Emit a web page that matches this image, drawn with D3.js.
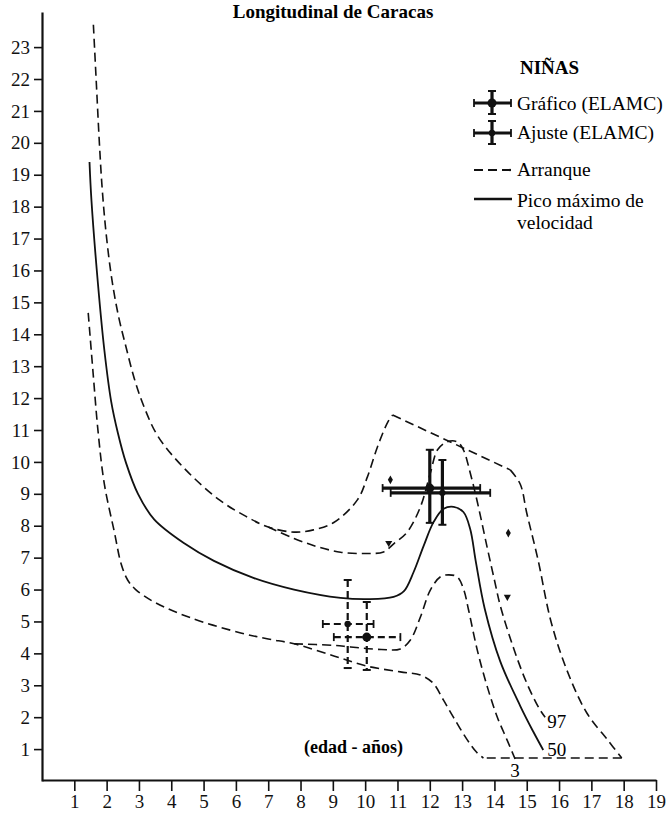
<!DOCTYPE html>
<html>
<head>
<meta charset="utf-8">
<script src="https://cdn.jsdelivr.net/npm/d3@7"></script>
<style>
body { margin: 0; background: #fff; }
text { font-family: "Liberation Serif", "Times New Roman", serif; }
</style>
</head>
<body>
<div id="grafico"></div>
<script>
const width = 666
const height = 816
const color_linea = '#111'

/* curvas de velocidad: [edad, cm/año] */
const sup_envolvente = [[1.59,23.7],[1.68,21.9],[1.77,20.1],[1.86,18.6],[1.98,17.2],[2.15,15.8],[2.36,14.6],[2.6,13.6],[2.86,12.6],[3.16,11.72],[3.59,10.8],[4.4,9.8],[5.5,8.8],[6.3,8.3],[7.0,7.96],[7.8,7.8],[8.4,7.87],[9.03,8.1],[9.76,8.81],[10.07,9.53],[10.38,10.47],[10.7,11.25],[10.85,11.47]]
const arista = [[10.85,11.47],[14.49,9.75]]
const caida = [[14.49,9.75],[14.8,9.3],[15.0,8.4],[15.35,6.93],[15.75,5.0],[16.24,3.48],[16.86,2.13],[17.5,1.29],[17.94,0.72]]
const base = [[17.94,0.72],[13.66,0.72]]
const inf_envolvente = [[1.43,14.67],[1.58,12.8],[1.74,10.9],[1.93,9.3],[2.24,7.8],[2.45,6.8],[2.65,6.3],[2.9,6.0],[3.47,5.61],[4.61,5.11],[6.15,4.64],[7.0,4.45],[7.8,4.3],[9.03,3.92],[10.05,3.6],[11.09,3.42],[11.71,3.32],[12.1,3.07],[12.42,2.54],[12.73,2.0],[13.16,1.29],[13.45,0.9],[13.66,0.72]]
const p97 = [[7.0,7.96],[7.8,7.6],[8.53,7.34],[9.24,7.17],[10.0,7.13],[10.57,7.18],[10.9,7.45],[11.3,7.8],[11.71,8.59],[12.02,9.66],[12.24,10.38],[12.54,10.63],[12.85,10.63],[13.04,10.38],[13.25,9.66],[13.47,8.75],[13.78,7.3],[14.0,6.3],[14.18,5.5],[14.58,4.2],[15.0,3.07],[15.41,2.23],[15.57,2.0]]
const p50 = [[1.47,19.4],[1.53,18.2],[1.73,15.6],[1.93,13.5],[2.14,11.9],[2.35,10.9],[2.6,9.97],[2.97,9.0],[3.47,8.2],[4.4,7.45],[5.32,6.9],[6.56,6.36],[7.8,6.0],[9.24,5.74],[10.1,5.7],[10.88,5.77],[11.2,5.95],[11.5,6.55],[11.81,7.37],[12.12,8.12],[12.43,8.53],[12.74,8.59],[13.04,8.43],[13.25,7.9],[13.42,6.9],[13.7,5.4],[14.18,3.75],[14.8,2.35],[15.2,1.55],[15.51,0.97]]
const p3 = [[7.8,4.3],[9.03,4.25],[9.55,4.2],[10.5,4.12],[11.09,4.14],[11.4,4.42],[11.71,5.14],[12.02,5.99],[12.33,6.4],[12.58,6.46],[12.85,6.4],[13.05,6.0],[13.2,5.36],[13.47,4.1],[13.78,2.95],[14.09,2.0],[14.39,1.29],[14.64,0.69]]

/* cruces (ELAMC) */
const cruces_tipo = ['pico', 'pico', 'arranque', 'arranque']
const cruces_metodo = ['Gráfico', 'Ajuste', 'Gráfico', 'Ajuste']
const cruces_edad = [12.0, 12.39, 10.05, 9.46]
const cruces_edad_min = [10.54, 10.79, 9.03, 8.69]
const cruces_edad_max = [13.56, 13.87, 11.09, 10.26]
const cruces_vel = [9.18, 9.03, 4.51, 4.92]
const cruces_vel_min = [8.09, 8.03, 3.48, 3.54]
const cruces_vel_max = [10.38, 10.06, 5.61, 6.3]

/* marcas sueltas */
const marcas_edad = [10.78, 14.43, 14.4, 10.73]
const marcas_vel = [9.44, 7.77, 5.77, 7.46]
const marcas_forma = ['rombo', 'rombo', 'v', 'v']

const ticks_x = d3.range(1, 20)
const ticks_y = d3.range(1, 24)

document.addEventListener('DOMContentLoaded', function ()
{
const svg = d3.select("#grafico")
    .append("svg")
    .attr("width", width)
    .attr("height", height)

const x = d3.scaleLinear().domain([0, 19]).range([42, 656])
const y = d3.scaleLinear().domain([0, 24.1]).range([781, 12])

/* Titulo */
svg.append("text")
    .attr("x", width/2)
    .attr("y", 18)
    .attr("font-size", 19)
    .attr("font-weight", "bold")
    .attr("text-anchor", "middle")
    .text("Longitudinal de Caracas")

/* Ejes */
const eje_y = svg.append("g")
    .attr("transform", "translate(42,0)")
    .call(d3.axisLeft(y).tickValues(ticks_y).tickSize(8).tickSizeOuter(0).tickPadding(4))
const eje_x = svg.append("g")
    .attr("transform", "translate(0,780)")
    .call(d3.axisBottom(x).tickValues(ticks_x).tickSize(11).tickSizeOuter(0).tickPadding(4))
for (const eje of [eje_y, eje_x]) {
    eje.select(".domain").attr("stroke", color_linea).attr("stroke-width", 2.2)
    eje.selectAll(".tick line").attr("stroke", color_linea).attr("stroke-width", 1.6)
    eje.selectAll("text")
        .attr("font-family", "Liberation Serif")
        .attr("font-size", 19)
        .attr("fill", color_linea)
}

/* Curvas */
const suave = d3.line().x(d => x(d[0])).y(d => y(d[1])).curve(d3.curveCatmullRom.alpha(0.5))
const recta = d3.line().x(d => x(d[0])).y(d => y(d[1]))

const discontinuas = [
    [sup_envolvente, suave], [arista, recta], [caida, suave], [base, recta],
    [inf_envolvente, suave], [p97, suave], [p3, suave]
]
discontinuas.forEach(([datos, gen]) => {
    svg.append("path")
        .attr("d", gen(datos))
        .attr("fill", "none")
        .attr("stroke", color_linea)
        .attr("stroke-width", 1.6)
        .attr("stroke-dasharray", "9,5")
})
svg.append("path")
    .attr("d", suave(p50))
    .attr("fill", "none")
    .attr("stroke", color_linea)
    .attr("stroke-width", 1.8)

/* etiquetas de percentil */
const fin97 = p97[p97.length - 1], fin50 = p50[p50.length - 1], fin3 = p3[p3.length - 1]
svg.append("text").attr("x", x(fin97[0]) + 2).attr("y", y(fin97[1]) + 11)
    .attr("font-size", 19).text("97")
svg.append("text").attr("x", x(fin50[0]) + 4).attr("y", y(fin50[1]) + 6)
    .attr("font-size", 19).text("50")
svg.append("text").attr("x", x(fin3[0])).attr("y", y(fin3[1]) + 18)
    .attr("font-size", 19).attr("text-anchor", "middle").text("3")

svg.append("text")
    .attr("x", x(9.64))
    .attr("y", y(0.88))
    .attr("font-size", 18)
    .attr("font-weight", "bold")
    .attr("text-anchor", "middle")
    .text("(edad - años)")

/* Cruces */
function cruz(g, cx, cy, x0, x1, y0, y1, tipo, metodo) {
    const grosor = tipo === 'pico' ? 3.2 : 2.2
    const dash = tipo === 'pico' ? null : "7,4"
    g.append("line").attr("x1", x0).attr("x2", x1).attr("y1", cy).attr("y2", cy)
        .attr("stroke", color_linea).attr("stroke-width", grosor).attr("stroke-dasharray", dash)
    g.append("line").attr("x1", cx).attr("x2", cx).attr("y1", y0).attr("y2", y1)
        .attr("stroke", color_linea).attr("stroke-width", grosor).attr("stroke-dasharray", dash)
    /* topes */
    for (const xx of [x0, x1]) {
        g.append("line").attr("x1", xx).attr("x2", xx).attr("y1", cy - 4).attr("y2", cy + 4)
            .attr("stroke", color_linea).attr("stroke-width", 1.8)
    }
    for (const yy of [y0, y1]) {
        g.append("line").attr("x1", cx - 4).attr("x2", cx + 4).attr("y1", yy).attr("y2", yy)
            .attr("stroke", color_linea).attr("stroke-width", 2)
    }
    g.append("circle").attr("cx", cx).attr("cy", cy)
        .attr("r", metodo === 'Gráfico' ? 4.5 : 3.2)
        .attr("fill", color_linea)
}
cruces_edad.forEach((e, i) => {
    cruz(svg.append("g"), x(e), y(cruces_vel[i]),
        x(cruces_edad_min[i]), x(cruces_edad_max[i]),
        y(cruces_vel_max[i]), y(cruces_vel_min[i]),
        cruces_tipo[i], cruces_metodo[i])
})

/* marcas */
marcas_edad.forEach((e, i) => {
    svg.append("path")
        .attr("d", d3.symbol().type(marcas_forma[i] === 'rombo' ? d3.symbolDiamond : d3.symbolTriangle).size(22)())
        .attr("transform", `translate(${x(e)},${y(marcas_vel[i])}) rotate(${marcas_forma[i] === 'v' ? 180 : 0})`)
        .attr("fill", color_linea)
})

/* Leyenda */
const ley = svg.append("g")
ley.append("text").attr("x", 520).attr("y", 74)
    .attr("font-size", 19).attr("font-weight", "bold").text("NIÑAS")
cruz(ley, 492, 103, 474, 511, 91, 114, 'pico', 'Gráfico')
ley.append("text").attr("x", 517).attr("y", 110).attr("font-size", 19.5).text("Gráfico (ELAMC)")
cruz(ley, 492, 133, 474, 511, 121, 144, 'pico', 'Ajuste')
ley.append("text").attr("x", 517).attr("y", 139).attr("font-size", 19.5).text("Ajuste (ELAMC)")
ley.append("line").attr("x1", 474).attr("x2", 512).attr("y1", 170).attr("y2", 170)
    .attr("stroke", color_linea).attr("stroke-width", 2.2).attr("stroke-dasharray", "9,5")
ley.append("text").attr("x", 517).attr("y", 176).attr("font-size", 19.5).text("Arranque")
ley.append("line").attr("x1", 474).attr("x2", 512).attr("y1", 199).attr("y2", 199)
    .attr("stroke", color_linea).attr("stroke-width", 2.6)
ley.append("text").attr("x", 517).attr("y", 207).attr("font-size", 19.5).text("Pico máximo de")
ley.append("text").attr("x", 517).attr("y", 229).attr("font-size", 19.5).text("velocidad")
}, { once: true });
</script>
</body>
</html>
